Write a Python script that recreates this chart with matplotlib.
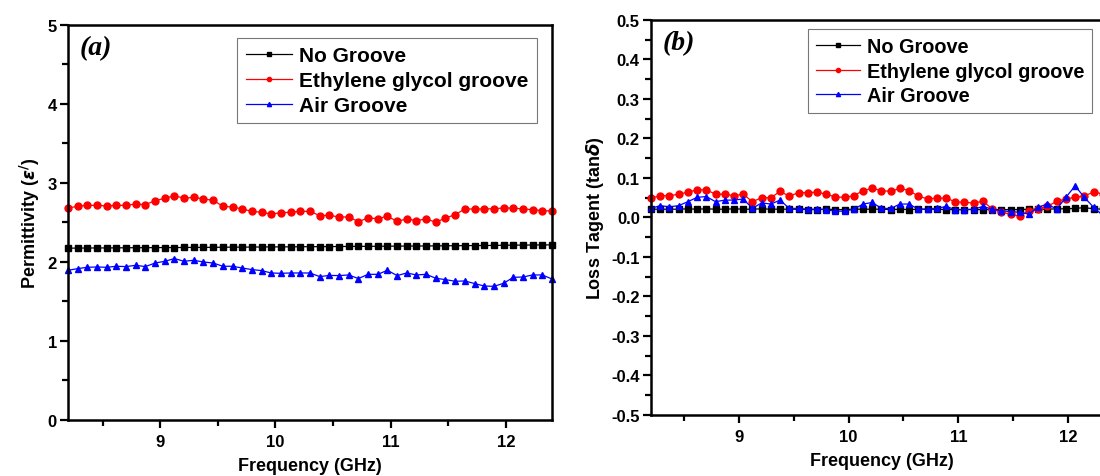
import numpy as np
import matplotlib
matplotlib.use('Agg')
import matplotlib.pyplot as plt
from matplotlib.ticker import MultipleLocator, FormatStrFormatter

plt.rcParams['font.family'] = 'Liberation Sans'
plt.rcParams['font.weight'] = 'bold'
plt.rcParams['mathtext.fontset'] = 'dejavusans'

# X-band sweep, 51 points from 8.2 to 12.4 GHz
freq = np.linspace(8.2, 12.4, 51)

# (a) real permittivity
eps_none = [2.175, 2.176, 2.177, 2.178, 2.178, 2.179, 2.180, 2.181, 2.181, 2.182,
            2.183, 2.183, 2.184, 2.185, 2.185, 2.186, 2.187, 2.188, 2.188, 2.189,
            2.190, 2.191, 2.191, 2.192, 2.193, 2.194, 2.194, 2.195, 2.196, 2.197,
            2.198, 2.198, 2.199, 2.200, 2.201, 2.202, 2.202, 2.203, 2.204, 2.205,
            2.206, 2.207, 2.208, 2.209, 2.210, 2.212, 2.213, 2.214, 2.215, 2.216, 2.217]
eps_glycol = [2.683, 2.705, 2.717, 2.717, 2.709, 2.717, 2.717, 2.734, 2.726, 2.777,
              2.806, 2.840, 2.806, 2.819, 2.798, 2.781, 2.705, 2.696, 2.671, 2.641,
              2.629, 2.607, 2.624, 2.629, 2.641, 2.641, 2.587, 2.591, 2.570, 2.570,
              2.511, 2.557, 2.549, 2.578, 2.515, 2.545, 2.524, 2.545, 2.503, 2.557,
              2.599, 2.671, 2.671, 2.671, 2.675, 2.683, 2.683, 2.671, 2.663, 2.650, 2.645]
eps_air = [1.895, 1.916, 1.933, 1.937, 1.933, 1.946, 1.942, 1.958, 1.942, 1.987,
           2.009, 2.043, 2.009, 2.022, 2.000, 1.987, 1.946, 1.946, 1.924, 1.904,
           1.891, 1.861, 1.857, 1.861, 1.861, 1.861, 1.815, 1.830, 1.828, 1.836,
           1.790, 1.844, 1.844, 1.895, 1.828, 1.861, 1.836, 1.844, 1.794, 1.777,
           1.756, 1.760, 1.727, 1.696, 1.692, 1.730, 1.806, 1.810, 1.836, 1.836, 1.785]

# (b) loss tangent
tan_none = [0.021, 0.021, 0.021, 0.021, 0.022, 0.021, 0.022, 0.021, 0.021, 0.022,
            0.021, 0.021, 0.022, 0.021, 0.021, 0.021, 0.021, 0.020, 0.020, 0.021,
            0.020, 0.020, 0.021, 0.021, 0.021, 0.021, 0.020, 0.021, 0.020, 0.021,
            0.021, 0.021, 0.020, 0.020, 0.020, 0.020, 0.020, 0.020, 0.020, 0.020,
            0.020, 0.021, 0.021, 0.021, 0.022, 0.022, 0.023, 0.025, 0.022, 0.021, 0.021]
tan_glycol = [0.049, 0.055, 0.055, 0.059, 0.064, 0.070, 0.070, 0.059, 0.059, 0.055,
              0.059, 0.040, 0.050, 0.050, 0.066, 0.054, 0.063, 0.063, 0.064, 0.059,
              0.052, 0.051, 0.055, 0.068, 0.074, 0.068, 0.066, 0.074, 0.068, 0.054,
              0.047, 0.049, 0.049, 0.040, 0.038, 0.037, 0.041, 0.022, 0.013, 0.009,
              0.003, 0.017, 0.022, 0.028, 0.041, 0.047, 0.051, 0.055, 0.064, 0.060, 0.058]
tan_air = [0.023, 0.030, 0.027, 0.030, 0.040, 0.051, 0.053, 0.040, 0.044, 0.044,
           0.047, 0.023, 0.037, 0.034, 0.044, 0.023, 0.023, 0.021, 0.021, 0.020,
           0.016, 0.016, 0.021, 0.034, 0.038, 0.023, 0.023, 0.034, 0.034, 0.021,
           0.021, 0.023, 0.028, 0.020, 0.020, 0.021, 0.028, 0.021, 0.017, 0.015,
           0.013, 0.009, 0.026, 0.034, 0.021, 0.051, 0.080, 0.051, 0.026, 0.005, 0.012]

labels = ['No Groove', 'Ethylene glycol groove', 'Air Groove']
styles = [dict(color='black', marker='s'),
          dict(color='red', marker='o'),
          dict(color='blue', marker='^')]

fig = plt.figure(figsize=(11, 4.77), dpi=100)
ax_a = fig.add_axes([0.0618, 0.1174, 0.44, 0.8281])
ax_b = fig.add_axes([0.5918, 0.1279, 0.4191, 0.8281])


def style_axes(ax):
    for s in ax.spines.values():
        s.set_linewidth(1.8)
    ax.set_xlim(8.2, 12.4)
    ax.xaxis.set_major_locator(MultipleLocator(1))
    ax.xaxis.set_minor_locator(MultipleLocator(0.5))
    ax.tick_params(which='both', direction='out', width=1.6, labelsize=12,
                   top=False, right=False)
    ax.tick_params(which='major', length=6)
    ax.tick_params(which='minor', length=4)
    ax.tick_params(axis='x', pad=4)
    ax.tick_params(axis='y', pad=2)
    ax.set_xlabel('Frequency (GHz)', fontsize=13, fontweight='bold', labelpad=6)


def add_legend(ax, anchor, size):
    leg = ax.legend(loc='upper left', bbox_to_anchor=anchor, fontsize=size,
                    frameon=True, fancybox=False, handlelength=2.2,
                    handletextpad=0.35, labelspacing=0.28, borderpad=0.4,
                    markerscale=0.6, borderaxespad=0)
    leg.get_frame().set_edgecolor('#555555')
    leg.get_frame().set_linewidth(0.8)


for ax, series in ((ax_a, (eps_none, eps_glycol, eps_air)),
                   (ax_b, (tan_none, tan_glycol, tan_air))):
    for y, lab, st in zip(series, labels, styles):
        ax.plot(freq, y, '-', lw=0.9, ms=5, label=lab, clip_on=False, **st)
    style_axes(ax)

ax_a.set_ylim(0, 5)
ax_a.yaxis.set_major_locator(MultipleLocator(1))
ax_a.yaxis.set_minor_locator(MultipleLocator(0.5))
ax_a.set_ylabel(r'Permittivity ($\epsilon^{/}$)', fontsize=13, fontweight='bold', labelpad=4)
ax_a.text(0.025, 0.975, '(a)', transform=ax_a.transAxes, ha='left', va='top',
          fontsize=20, family='Liberation Serif', style='italic', weight='bold')
add_legend(ax_a, (0.350, 0.967), 15)

ax_b.set_ylim(-0.5, 0.5)
ax_b.yaxis.set_major_locator(MultipleLocator(0.1))
ax_b.yaxis.set_minor_locator(MultipleLocator(0.05))
ax_b.yaxis.set_major_formatter(FormatStrFormatter('%.1f'))
ax_b.set_ylabel(r'Loss Tagent (tan$\delta$)', fontsize=13, fontweight='bold', labelpad=4)
ax_b.text(0.025, 0.975, '(b)', transform=ax_b.transAxes, ha='left', va='top',
          fontsize=20, family='Liberation Serif', style='italic', weight='bold')
add_legend(ax_b, (0.3406, 0.977), 14.3)

fig.savefig('out.png', dpi=100)
